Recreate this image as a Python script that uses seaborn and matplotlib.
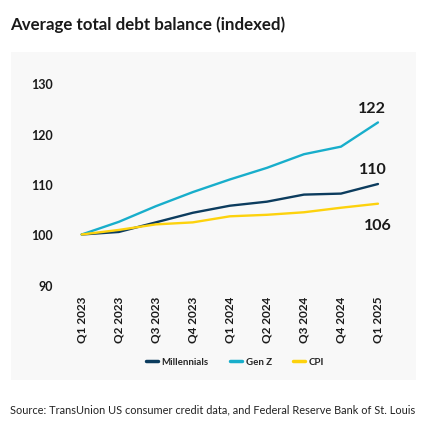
import pandas as pd
import matplotlib
matplotlib.use("Agg")
import matplotlib.pyplot as plt
import seaborn as sns
from matplotlib.patches import Rectangle

# --- data ---
quarters = ["Q1 2023", "Q2 2023", "Q3 2023", "Q4 2023", "Q1 2024",
            "Q2 2024", "Q3 2024", "Q4 2024", "Q1 2025"]
millennials = [100.0, 100.5, 102.4, 104.3, 105.7, 106.5, 107.9, 108.1, 110.0]
gen_z = [100.0, 102.5, 105.6, 108.4, 110.9, 113.2, 115.9, 117.4, 122.2]
cpi = [100.0, 100.9, 102.0, 102.4, 103.6, 103.9, 104.4, 105.3, 106.1]
series_names = ["Millennials", "Gen Z", "CPI"]
end_labels = ["110", "122", "106"]
y_ticks = [90, 100, 110, 120, 130]

colors = {"Millennials": "#0c3c5e", "Gen Z": "#18aecb", "CPI": "#fdd20d"}

# long-form frame for seaborn
rows = []
for name, vals in zip(series_names, [millennials, gen_z, cpi]):
    for i, v in enumerate(vals):
        rows.append({"x": i, "value": v, "series": name})
df = pd.DataFrame(rows)

sns.set_theme(style="white")
plt.rcParams['font.family'] = ['Lato', 'DejaVu Sans']
text_col = "#1a1a1a"

fig = plt.figure(figsize=(4.30, 4.31), dpi=100)
fig.patch.set_facecolor("white")

# light grey panel behind the chart
fig.patches.append(Rectangle((11 / 430, 1 - 381 / 431), 405 / 430, 328 / 431,
                             transform=fig.transFigure, facecolor="#f8f8f8",
                             edgecolor="none", zorder=-5))

ax = fig.add_axes([0.1384, 0.3248, 0.7923, 0.4919])
ax.set_zorder(2)
ax.set_facecolor("none")

sns.lineplot(data=df, x="x", y="value", hue="series", palette=colors,
             hue_order=series_names, linewidth=1.7, ax=ax, legend=False)

ax.set_xlim(-0.6, 8.6)
ax.set_ylim(89, 131)
ax.set_yticks(y_ticks)
ax.set_yticklabels([str(t) for t in y_ticks], fontsize=9, fontweight="bold", color=text_col)
ax.set_xticks(range(len(quarters)))
ax.set_xticklabels(quarters, rotation=90, fontsize=8.5, fontweight="bold", color=text_col)
ax.tick_params(axis="y", length=0, pad=5)
ax.tick_params(axis="x", length=0, pad=4)
ax.set_xlabel("")
ax.set_ylabel("")
for s in ax.spines.values():
    s.set_visible(False)

# end-of-line value labels
last = len(quarters) - 1
ax.annotate(end_labels[1], (last, gen_z[-1]), xytext=(-4, 5), textcoords="offset points",
            ha="center", va="bottom", fontsize=11.5, fontweight="bold", color=text_col)
ax.annotate(end_labels[0], (last, millennials[-1]), xytext=(-4, 6), textcoords="offset points",
            ha="center", va="bottom", fontsize=11.5, fontweight="bold", color=text_col)
ax.annotate(end_labels[2], (last, cpi[-1]), xytext=(0, -10), textcoords="offset points",
            ha="center", va="top", fontsize=11.5, fontweight="bold", color=text_col)

# legend
handles = [plt.Line2D([0], [0], color=colors[n], lw=2.5) for n in series_names]
fig.legend(handles, series_names, loc="center", bbox_to_anchor=(235 / 430, 1 - 363 / 431),
           ncol=3, frameon=False, handlelength=1.2, handletextpad=0.4,
           columnspacing=2.2, prop={"weight": "bold", "size": 7})

fig.text(10 / 430, 1 - 25 / 431, "Average total debt balance (indexed)",
         fontsize=12.2, fontweight="bold", color=text_col, va="center", ha="left")
fig.text(10 / 430, 1 - 410 / 431,
         "Source: TransUnion US consumer credit data, and Federal Reserve Bank of St. Louis",
         fontsize=7.9, color="#222222", va="center", ha="left")

fig.savefig("out.png", dpi=100)
